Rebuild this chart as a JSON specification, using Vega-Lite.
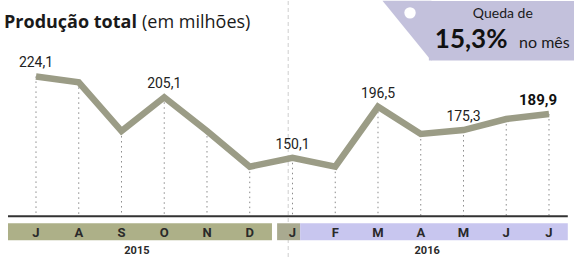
{
  "$schema": "https://vega.github.io/schema/vega-lite/v6.json",
  "width": 574,
  "height": 259,
  "autosize": {"type": "fit", "contains": "padding"},
  "padding": 0,
  "background": "#ffffff",
  "config": {"view": {"stroke": null}, "text": {"font": "Roboto"}},
  "datasets": {
    "prod": [
      {"i": 0, "mes": "J", "ano": 2015, "v": 224.1, "rotulo": "224,1"},
      {"i": 1, "mes": "A", "ano": 2015, "v": 218.7},
      {"i": 2, "mes": "S", "ano": 2015, "v": 174.4},
      {"i": 3, "mes": "O", "ano": 2015, "v": 205.1, "rotulo": "205,1"},
      {"i": 4, "mes": "N", "ano": 2015, "v": 174.4},
      {"i": 5, "mes": "D", "ano": 2015, "v": 142.0},
      {"i": 6, "mes": "J", "ano": 2016, "v": 150.1, "rotulo": "150,1"},
      {"i": 7, "mes": "F", "ano": 2016, "v": 142.0},
      {"i": 8, "mes": "M", "ano": 2016, "v": 196.5, "rotulo": "196,5"},
      {"i": 9, "mes": "A", "ano": 2016, "v": 171.7},
      {"i": 10, "mes": "M", "ano": 2016, "v": 175.3, "rotulo": "175,3"},
      {"i": 11, "mes": "J", "ano": 2016, "v": 185.3},
      {"i": 12, "mes": "J", "ano": 2016, "v": 189.9, "rotulo": "189,9"}
    ]
  },
  "layer": [
    {
      "data": {"values": [{}]},
      "mark": {"type": "rule", "color": "#bbbbbb", "strokeDash": [4, 3], "strokeWidth": 1, "opacity": 0.7},
      "encoding": {
        "x": {"datum": 5.9, "type": "quantitative", "scale": {"domain": [-0.842, 12.585], "nice": false, "zero": false}, "axis": null},
        "y": {"datum": 292.7, "type": "quantitative", "scale": {"domain": [58.9, 292.7], "nice": false, "zero": false}, "axis": null},
        "y2": {"datum": 58.9}
      }
    },
    {
      "data": {"values": [{}]},
      "mark": {"type": "rect", "color": "#c3c1dc"},
      "encoding": {
        "x": {"datum": 9.19, "type": "quantitative", "scale": {"domain": [-0.842, 12.585], "nice": false, "zero": false}, "axis": null},
        "x2": {"datum": 12.585},
        "y": {"datum": 292.7, "type": "quantitative", "scale": {"domain": [58.9, 292.7], "nice": false, "zero": false}, "axis": null},
        "y2": {"datum": 238.5}
      }
    },
    {
      "data": {"values": [{}]},
      "mark": {"type": "point", "filled": true, "shape": "M-0.8,-1L0.83,-1L0.83,1Z", "size": 3600, "color": "#c3c1dc", "opacity": 1},
      "encoding": {
        "x": {"datum": 8.667, "type": "quantitative", "scale": {"domain": [-0.842, 12.585], "nice": false, "zero": false}, "axis": null},
        "y": {"datum": 265.6, "type": "quantitative", "scale": {"domain": [58.9, 292.7], "nice": false, "zero": false}, "axis": null}
      }
    },
    {
      "data": {"values": [{}]},
      "mark": {"type": "point", "filled": true, "shape": "circle", "size": 130, "color": "#ffffff", "opacity": 1},
      "encoding": {
        "x": {"datum": 8.749, "type": "quantitative", "scale": {"domain": [-0.842, 12.585], "nice": false, "zero": false}, "axis": null},
        "y": {"datum": 281.9, "type": "quantitative", "scale": {"domain": [58.9, 292.7], "nice": false, "zero": false}, "axis": null}
      }
    },
    {
      "data": {"name": "prod"},
      "mark": {"type": "rule", "color": "#8a8a8a", "strokeDash": [1.5, 3.5], "strokeWidth": 1},
      "encoding": {
        "x": {"field": "i", "type": "quantitative", "scale": {"domain": [-0.842, 12.585], "nice": false, "zero": false}, "axis": null},
        "y": {"field": "v", "type": "quantitative", "scale": {"domain": [58.9, 292.7], "nice": false, "zero": false}, "axis": null},
        "y2": {"datum": 96.8}
      }
    },
    {
      "data": {"values": [{}]},
      "mark": {"type": "rule", "color": "#333333", "strokeWidth": 2},
      "encoding": {
        "x": {"datum": -0.655, "type": "quantitative", "scale": {"domain": [-0.842, 12.585], "nice": false, "zero": false}, "axis": null},
        "x2": {"datum": 12.44},
        "y": {"datum": 96.8, "type": "quantitative", "scale": {"domain": [58.9, 292.7], "nice": false, "zero": false}, "axis": null}
      }
    },
    {
      "data": {"values": [{}]},
      "mark": {"type": "rect", "color": "#adb088"},
      "encoding": {
        "x": {"datum": -0.655, "type": "quantitative", "scale": {"domain": [-0.842, 12.585], "nice": false, "zero": false}, "axis": null},
        "x2": {"datum": 5.52},
        "y": {"datum": 90.5, "type": "quantitative", "scale": {"domain": [58.9, 292.7], "nice": false, "zero": false}, "axis": null},
        "y2": {"datum": 75.1}
      }
    },
    {
      "data": {"values": [{}]},
      "mark": {"type": "rect", "color": "#a9aa90"},
      "encoding": {
        "x": {"datum": 5.64, "type": "quantitative", "scale": {"domain": [-0.842, 12.585], "nice": false, "zero": false}, "axis": null},
        "x2": {"datum": 6.18},
        "y": {"datum": 90.5, "type": "quantitative", "scale": {"domain": [58.9, 292.7], "nice": false, "zero": false}, "axis": null},
        "y2": {"datum": 75.1}
      }
    },
    {
      "data": {"values": [{}]},
      "mark": {"type": "rect", "color": "#c8c6ef"},
      "encoding": {
        "x": {"datum": 6.18, "type": "quantitative", "scale": {"domain": [-0.842, 12.585], "nice": false, "zero": false}, "axis": null},
        "x2": {"datum": 12.44},
        "y": {"datum": 90.5, "type": "quantitative", "scale": {"domain": [58.9, 292.7], "nice": false, "zero": false}, "axis": null},
        "y2": {"datum": 75.1}
      }
    },
    {
      "data": {"name": "prod"},
      "mark": {"type": "line", "color": "#9b9c86", "strokeWidth": 6.5, "strokeJoin": "miter"},
      "encoding": {
        "x": {"field": "i", "type": "quantitative", "scale": {"domain": [-0.842, 12.585], "nice": false, "zero": false}, "axis": null},
        "y": {"field": "v", "type": "quantitative", "scale": {"domain": [58.9, 292.7], "nice": false, "zero": false}, "axis": null}
      }
    },
    {
      "data": {"name": "prod"},
      "mark": {"type": "text", "fontSize": 13, "fontWeight": "bold", "color": "#2a2a2a", "baseline": "middle", "align": "center"},
      "encoding": {
        "x": {"field": "i", "type": "quantitative", "scale": {"domain": [-0.842, 12.585], "nice": false, "zero": false}, "axis": null},
        "y": {"datum": 81.5, "type": "quantitative", "scale": {"domain": [58.9, 292.7], "nice": false, "zero": false}, "axis": null},
        "text": {"field": "mes"}
      }
    },
    {
      "data": {"values": [{}]},
      "mark": {"type": "text", "fontSize": 11, "fontWeight": "bold", "color": "#2a2a2a", "baseline": "middle", "align": "center"},
      "encoding": {
        "x": {"datum": 2.36, "type": "quantitative", "scale": {"domain": [-0.842, 12.585], "nice": false, "zero": false}, "axis": null},
        "y": {"datum": 65.2, "type": "quantitative", "scale": {"domain": [58.9, 292.7], "nice": false, "zero": false}, "axis": null},
        "text": {"value": "2015"}
      }
    },
    {
      "data": {"values": [{}]},
      "mark": {"type": "text", "fontSize": 11, "fontWeight": "bold", "color": "#2a2a2a", "baseline": "middle", "align": "center"},
      "encoding": {
        "x": {"datum": 9.15, "type": "quantitative", "scale": {"domain": [-0.842, 12.585], "nice": false, "zero": false}, "axis": null},
        "y": {"datum": 65.2, "type": "quantitative", "scale": {"domain": [58.9, 292.7], "nice": false, "zero": false}, "axis": null},
        "text": {"value": "2016"}
      }
    },
    {
      "data": {"name": "prod"},
      "transform": [{"filter": "datum.rotulo != null && datum.i != 12"}],
      "mark": {"type": "text", "fontSize": 14, "color": "#222222", "baseline": "alphabetic", "align": "center", "dy": -9},
      "encoding": {
        "x": {"field": "i", "type": "quantitative", "scale": {"domain": [-0.842, 12.585], "nice": false, "zero": false}, "axis": null},
        "y": {"field": "v", "type": "quantitative", "scale": {"domain": [58.9, 292.7], "nice": false, "zero": false}, "axis": null},
        "text": {"field": "rotulo"}
      }
    },
    {
      "data": {"name": "prod"},
      "transform": [{"filter": "datum.i == 12"}],
      "mark": {"type": "text", "fontSize": 15, "fontWeight": "bold", "color": "#111111", "baseline": "alphabetic", "align": "center", "dy": -9, "dx": -11},
      "encoding": {
        "x": {"field": "i", "type": "quantitative", "scale": {"domain": [-0.842, 12.585], "nice": false, "zero": false}, "axis": null},
        "y": {"field": "v", "type": "quantitative", "scale": {"domain": [58.9, 292.7], "nice": false, "zero": false}, "axis": null},
        "text": {"field": "rotulo"}
      }
    },
    {
      "data": {"values": [{}]},
      "mark": {"type": "text", "font": "Open Sans", "fontSize": 18, "fontWeight": "bold", "color": "#1a1a1a", "baseline": "alphabetic", "align": "left"},
      "encoding": {
        "x": {"datum": -0.748, "type": "quantitative", "scale": {"domain": [-0.842, 12.585], "nice": false, "zero": false}, "axis": null},
        "y": {"datum": 268.3, "type": "quantitative", "scale": {"domain": [58.9, 292.7], "nice": false, "zero": false}, "axis": null},
        "text": {"value": "Produção total"}
      }
    },
    {
      "data": {"values": [{}]},
      "mark": {"type": "text", "font": "Open Sans", "fontSize": 18, "color": "#1a1a1a", "baseline": "alphabetic", "align": "left"},
      "encoding": {
        "x": {"datum": 2.48, "type": "quantitative", "scale": {"domain": [-0.842, 12.585], "nice": false, "zero": false}, "axis": null},
        "y": {"datum": 268.3, "type": "quantitative", "scale": {"domain": [58.9, 292.7], "nice": false, "zero": false}, "axis": null},
        "text": {"value": "(em milhões)"}
      }
    },
    {
      "data": {"values": [{}]},
      "mark": {"type": "text", "font": "Lato", "fontSize": 14, "color": "#1a1a1a", "baseline": "alphabetic", "align": "center"},
      "encoding": {
        "x": {"datum": 10.92, "type": "quantitative", "scale": {"domain": [-0.842, 12.585], "nice": false, "zero": false}, "axis": null},
        "y": {"datum": 277.4, "type": "quantitative", "scale": {"domain": [58.9, 292.7], "nice": false, "zero": false}, "axis": null},
        "text": {"value": "Queda de"}
      }
    },
    {
      "data": {"values": [{}]},
      "mark": {"type": "text", "font": "Lato", "fontSize": 26, "fontWeight": "bold", "color": "#111111", "baseline": "alphabetic", "align": "left"},
      "encoding": {
        "x": {"datum": 9.33, "type": "quantitative", "scale": {"domain": [-0.842, 12.585], "nice": false, "zero": false}, "axis": null},
        "y": {"datum": 250.3, "type": "quantitative", "scale": {"domain": [58.9, 292.7], "nice": false, "zero": false}, "axis": null},
        "text": {"value": "15,3%"}
      }
    },
    {
      "data": {"values": [{}]},
      "mark": {"type": "text", "font": "Lato", "fontSize": 16, "color": "#1a1a1a", "baseline": "alphabetic", "align": "left"},
      "encoding": {
        "x": {"datum": 11.3, "type": "quantitative", "scale": {"domain": [-0.842, 12.585], "nice": false, "zero": false}, "axis": null},
        "y": {"datum": 250.3, "type": "quantitative", "scale": {"domain": [58.9, 292.7], "nice": false, "zero": false}, "axis": null},
        "text": {"value": "no mês"}
      }
    }
  ]
}
